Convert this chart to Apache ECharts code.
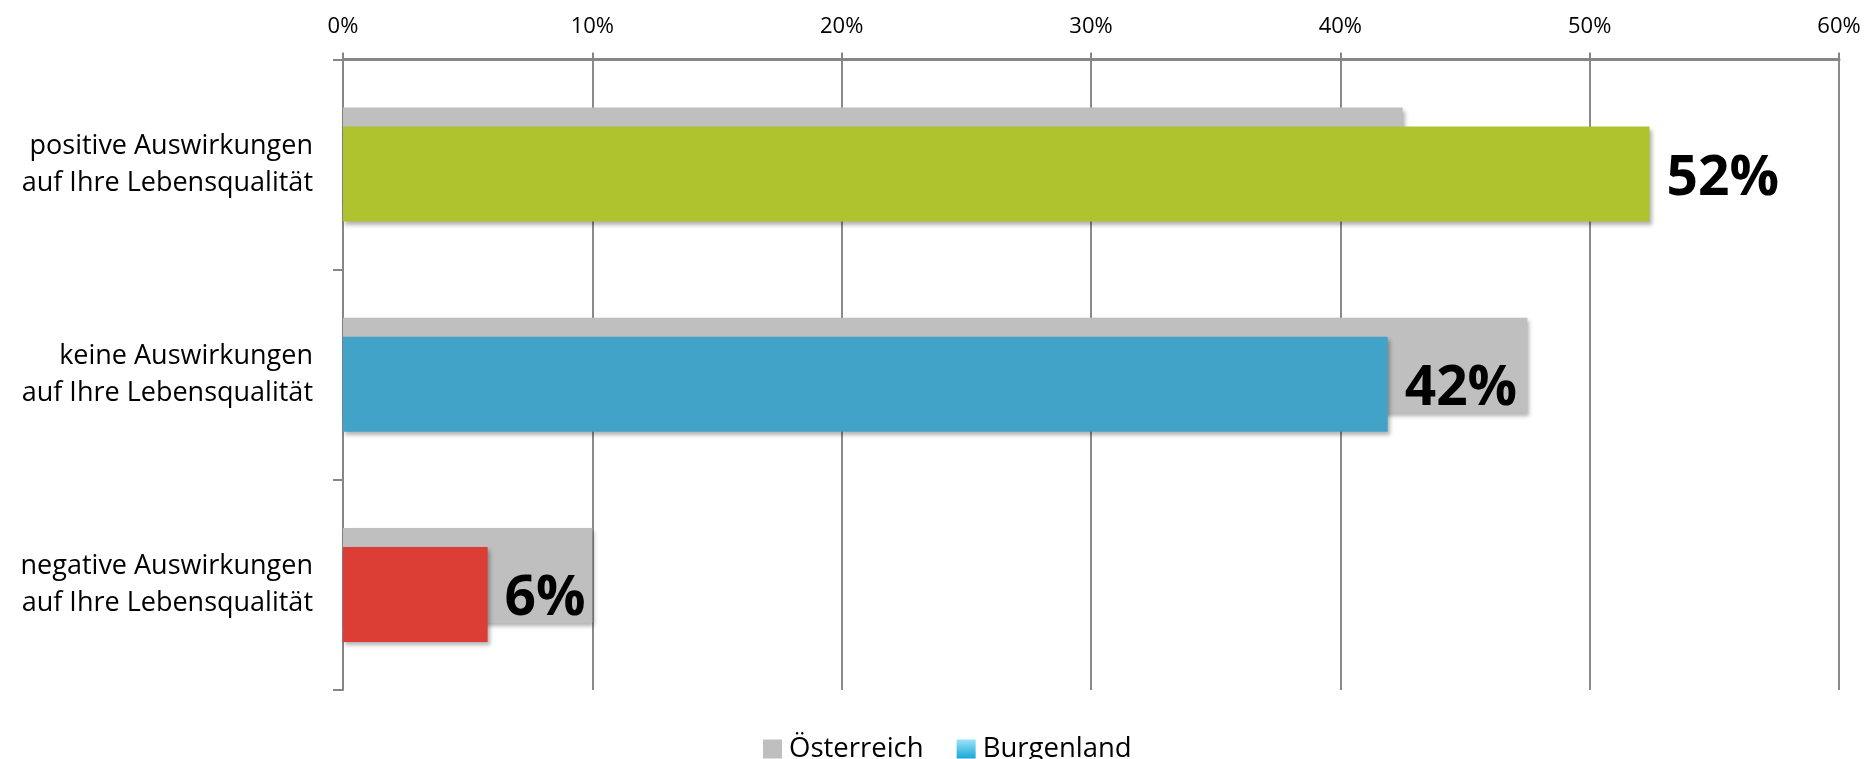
<!DOCTYPE html>
<html>
<head>
<meta charset="utf-8">
<script src="https://cdn.jsdelivr.net/npm/echarts@6/dist/echarts.min.js"></script>
<style>
html,body{margin:0;padding:0;background:#fff;}
#chart{width:1866px;height:759px;}
</style>
</head>
<body>
<div id="chart"></div>
<script>
const categories = [
  'positive Auswirkungen\nauf Ihre Lebensqualität',
  'keine Auswirkungen\nauf Ihre Lebensqualität',
  'negative Auswirkungen\nauf Ihre Lebensqualität'
];
const seriesNames = ['Österreich', 'Burgenland'];
const oesterreich = [42.5, 47.5, 10.0];
const burgenland = [52.4, 41.9, 5.8];
const burgenlandLabels = ['52%', '42%', '6%'];
const burgenlandColors = ['#AFC32F', '#41A3C8', '#DC3D34'];
const xTicks = { min: 0, max: 60, step: 10 };

const shadow = { shadowBlur: 4, shadowOffsetX: 2, shadowOffsetY: 3, shadowColor: 'rgba(0,0,0,0.30)' };

const chart = echarts.init(document.getElementById('chart'), null, { renderer: 'canvas' });
chart.setOption({
  backgroundColor: '#ffffff',
  animation: false,
  textStyle: { fontFamily: 'Open Sans' },
  grid: { left: 343, right: 27, top: 59.5, bottom: 69, containLabel: false },
  legend: {
    top: 730,
    left: 758,
    itemWidth: 19,
    itemHeight: 19,
    itemGap: 33,
    icon: 'rect',
    textStyle: { fontSize: 27.5, color: '#000', fontFamily: 'Open Sans', padding: [0, 0, 0, 2] },
    data: [
      { name: seriesNames[0], itemStyle: { color: '#BFBFBF' } },
      { name: seriesNames[1], itemStyle: { color: {
        type: 'linear', x: 0, y: 0, x2: 0, y2: 1,
        colorStops: [{ offset: 0, color: '#9BE3FA' }, { offset: 1, color: '#19A7D8' }]
      } } }
    ]
  },
  xAxis: {
    type: 'value',
    position: 'top',
    min: xTicks.min,
    max: xTicks.max,
    interval: xTicks.step,
    axisLine: { show: true, lineStyle: { color: '#868686', width: 3 } },
    axisTick: { show: true, length: 7, lineStyle: { color: '#868686', width: 2 } },
    axisLabel: { formatter: '{value}%', color: '#000', fontSize: 22, margin: 22 },
    splitLine: { show: true, lineStyle: { color: '#8a8a8a', width: 2 } }
  },
  yAxis: {
    type: 'category',
    inverse: true,
    data: categories,
    axisLine: { show: true, lineStyle: { color: '#868686', width: 2 } },
    axisTick: { show: true, length: 10, lineStyle: { color: '#868686', width: 2 } },
    axisLabel: { color: '#000', fontSize: 27, lineHeight: 37, margin: 30, align: 'right' }
  },
  series: [
    {
      name: seriesNames[0],
      type: 'bar',
      data: oesterreich,
      barWidth: 95,
      barGap: '-80%',
      itemStyle: Object.assign({ color: '#BFBFBF' }, shadow)
    },
    {
      name: seriesNames[1],
      type: 'bar',
      barWidth: 95,
      barGap: '-80%',
      data: burgenland.map((v, i) => ({ value: v, itemStyle: { color: burgenlandColors[i] } })),
      itemStyle: Object.assign({ color: '#41A3C8' }, shadow),
      label: {
        show: true,
        position: 'right',
        distance: 17,
        offset: [0, 5],
        formatter: p => burgenlandLabels[p.dataIndex],
        fontSize: 55,
        fontWeight: 'bold',
        color: '#000',
        fontFamily: 'Open Sans'
      }
    }
  ]
});
</script>
</body>
</html>
